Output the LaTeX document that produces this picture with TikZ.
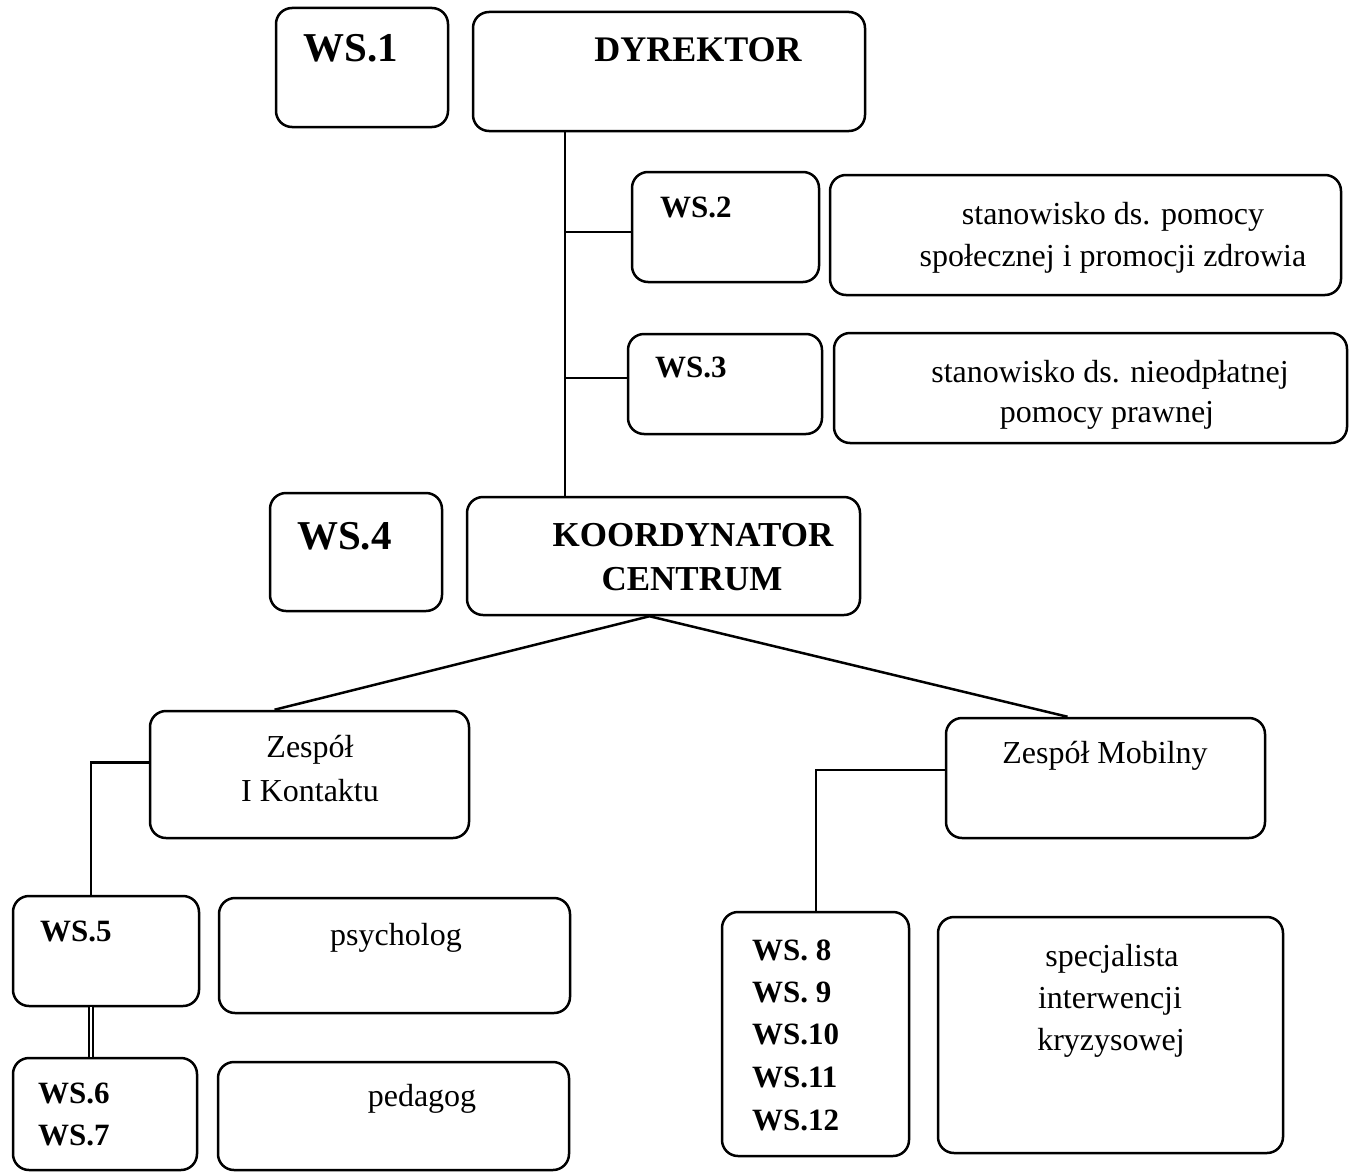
\documentclass[tikz,border=0pt]{standalone}
\usepackage{fontspec}
\setmainfont{Liberation Serif}
\usepackage{tikz}

\tikzset{
  box/.style={draw, line width=2.5pt, rounded corners=16pt, inner sep=0pt},
  txt/.style={inner sep=0pt, anchor=base, font=\fontsize{32}{40}\selectfont},
  wsbig/.style={inner sep=0pt, anchor=base west, font=\fontsize{41}{48}\selectfont\bfseries},
  wssmall/.style={inner sep=0pt, anchor=base west, font=\fontsize{31}{38}\selectfont\bfseries},
  head/.style={inner sep=0pt, anchor=base, font=\fontsize{36}{44}\selectfont\bfseries},
  link/.style={line width=2.5pt},
}

\begin{document}
\begin{tikzpicture}[x=1pt, y=-1pt]
  \useasboundingbox (0,0) rectangle (1354,1172);

  % ---- boxes: name / centre x / centre y / width / height ----
  \foreach \n/\cx/\cy/\w/\h in {
      ws1/362/67.5/172/119, dyr/669/71.5/392/119,
      ws2/725.5/227/187/110, st1/1085.5/235/511/120,
      ws3/725/384/194/100, st2/1090.5/388/513/110,
      ws4/356/552/172/118, koord/663.5/556/393/118,
      zk/309.5/774.5/319/127, zm/1105.5/778/319/120,
      ws5/106/951/186/110, psy/394.5/955.5/351/115,
      ws67/105/1114/184/112, ped/393.5/1116/351/108,
      ws812/815.5/1034/187/244, spec/1110.5/1035/345/236} {
    \node[box, minimum width=\w, minimum height=\h] (\n) at (\cx,\cy) {};
  }

  % ---- labels ----
  \node[wsbig] (ws1-t) at (303,62) {WS.1};
  \node[wsbig] (ws4-t) at (297,549) {WS.4};
  \node[head] (dyr-t) at (698,62) {DYREKTOR};
  \node[head, font=\fontsize{35}{44}\selectfont\bfseries] (koord-t1) at (693,546) {KOORDYNATOR};
  \node[head, font=\fontsize{35}{44}\selectfont\bfseries] (koord-t2) at (692,590) {CENTRUM};

  \node[wssmall] (ws2-t) at (660,217) {WS.2};
  \node[wssmall] (ws3-t) at (655,377) {WS.3};
  \node[wssmall] (ws5-t) at (40,941) {WS.5};
  \node[wssmall] (ws6-t) at (38,1103) {WS.6};
  \node[wssmall] (ws7-t) at (38,1145) {WS.7};
  \foreach \lab/\y in {{WS. 8}/960, {WS. 9}/1002, {WS.10}/1044, {WS.11}/1087, {WS.12}/1130} {
    \node[wssmall] (ws812-\y) at (752,\y) {\lab};
  }

  \node[txt] (st1-t1) at (1113,224) {stanowisko ds. pomocy};
  \node[txt] (st1-t2) at (1113,266) {społecznej i promocji zdrowia};
  \node[txt] (st2-t1) at (1110,382) {stanowisko ds. nieodpłatnej};
  \node[txt] (st2-t2) at (1107,422) {pomocy prawnej};
  \node[txt] (zk-t1) at (310,757) {Zespół};
  \node[txt] (zk-t2) at (310,801) {I Kontaktu};
  \node[txt] (zm-t) at (1105,763) {Zespół Mobilny};
  \node[txt] (psy-t) at (396,945) {psycholog};
  \node[txt] (ped-t) at (422,1106) {pedagog};
  \node[txt] (spec-t1) at (1112,966) {specjalista};
  \node[txt] (spec-t2) at (1110,1008) {interwencji};
  \node[txt] (spec-t3) at (1111,1050) {kryzysowej};

  % ---- connectors ----
  \coordinate (trunk) at (565,0);
  \coordinate (lk) at (91,0);
  \coordinate (lm) at (816,0);
  \draw[link] (dyr.south -| trunk) -- (koord.north -| trunk);
  \draw[link] ([yshift=-5]ws2.west) -- ([yshift=-5]ws2.west -| trunk);
  \draw[link] ([yshift=6]ws3.west) -- ([yshift=6]ws3.west -| trunk);
  \draw[link] ([xshift=-35]zk.north) -- ([xshift=-14]koord.south) -- ([xshift=-38]zm.north);
  \draw[link] ([yshift=12]zk.west) -| (ws5.north -| lk);
  \draw[line width=1.5pt, double, double distance=2.2pt] (ws5.south -| lk) -- (ws67.north -| lk);
  \draw[link] ([yshift=8]zm.west) -| (ws812.north -| lm);
\end{tikzpicture}
\end{document}
